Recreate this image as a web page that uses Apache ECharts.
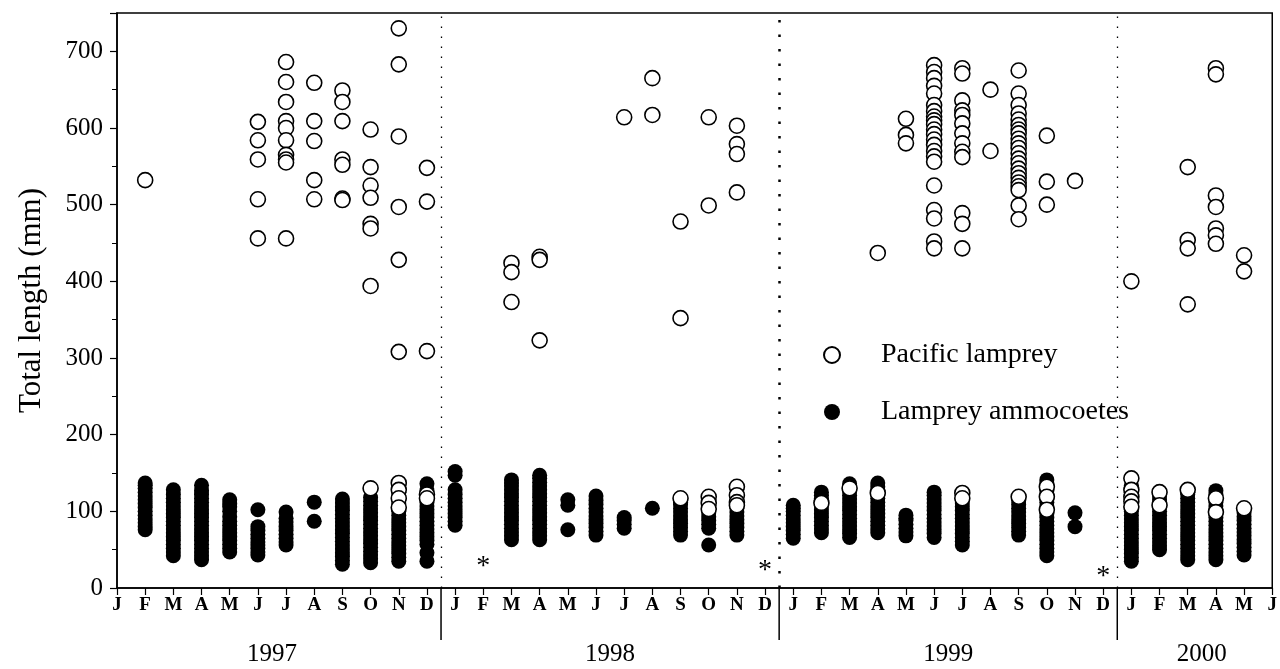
<!DOCTYPE html>
<html>
<head>
<meta charset="utf-8">
<script src="https://cdn.jsdelivr.net/npm/echarts@6/dist/echarts.min.js"></script>
<style>
html,body{margin:0;padding:0;background:#fff;}
#chart{width:1280px;height:669px;}
</style>
</head>
<body>
<div id="chart"></div>
<script>
// ---- Tick labels ----
const monthLabels = ['J','F','M','A','M','J','J','A','S','O','N','D',
                     'J','F','M','A','M','J','J','A','S','O','N','D',
                     'J','F','M','A','M','J','J','A','S','O','N','D',
                     'J','F','M','A','M','J'];
const yearLabels = ['1997','1998','1999','2000'];
const yearFirstMonth = [0, 12, 24, 36];
const yearLastMonth = [11, 23, 35, 41];
const yTicks = [0,100,200,300,400,500,600,700];

// ---- Lamprey ammocoetes (filled), month index (0 = Jan 1997) and lengths (mm) ----
const ammocoeteMonths = [1,2,3,4,5,6,7,8,9,10,11,
                         12,14,15,16,17,18,19,20,21,22,
                         24,25,26,27,28,29,30,32,33,34,
                         36,37,38,39,40];
const ammocoeteLengths = [
  [76,80,85,90,95,100,105,110,115,120,125,130,134,137],
  [42,47,52,57,62,67,72,77,82,87,92,97,102,107,112,117,122,128],
  [37,42,47,52,57,62,67,72,77,82,87,92,97,102,107,112,117,122,127,134],
  [47,52,57,62,67,72,77,82,87,93,100,106,110,115],
  [43,47,52,56,60,65,70,75,80,102],
  [56,60,65,70,75,80,86,91,99],
  [87,112],
  [31,36,41,46,51,56,61,66,71,76,81,86,91,96,101,106,111,116],
  [33,38,43,48,53,58,63,68,73,78,83,88,93,98,103,108,113,118],
  [35,40,45,50,55,60,65,70,75,80,85,90,95,100,105,110,115,120,125,130,135],
  [35,46,57,62,67,72,77,82,87,92,97,102,107,112,117,122,127,136],
  [82,87,92,97,102,107,112,117,122,128,147,152],
  [63,68,73,78,83,88,93,98,103,108,113,118,123,128,133,137,141],
  [63,68,73,78,83,88,93,98,103,108,113,118,123,128,133,138,143,147],
  [76,108,115],
  [69,74,79,84,89,94,99,104,109,114,120],
  [78,83,88,92],
  [104],
  [69,74,79,84,89,94,99,104,109,112],
  [56,78,83,88,93,98,103,108,115],
  [69,74,79,84,89,94,99,104,110],
  [65,70,75,80,85,90,95,100,104,108],
  [72,77,82,87,92,97,102,107,112,117,121,125],
  [66,71,76,81,86,91,96,101,106,111,116,121,126,131,136],
  [72,77,82,87,92,97,102,107,112,117,122,127,132,137],
  [68,73,78,83,88,91,95],
  [66,71,76,81,86,91,96,101,106,111,116,121,125],
  [56,61,66,71,76,81,86,91,96,101,106,111,116],
  [69,74,79,84,89,94,99,104,109,114],
  [42,47,52,57,62,67,72,77,82,87,92,97,102,107,112,117,122,127,132,137,141],
  [80,98],
  [35,40,45,50,55,60,65,70,75,80,85,90,95,100,105,110,115,120,125,130,134],
  [50,55,60,65,70,75,80,85,90,95,100,105,110,115,120,125],
  [37,42,47,52,57,62,67,72,77,82,87,92,97,102,107,112,117,122,125],
  [37,42,47,52,57,62,67,72,77,82,87,92,97,102,107,112,117,122,127],
  [43,48,53,58,63,68,73,78,83,88,93,98,104]
];

// ---- Pacific lamprey (open circles) ----
const pacificMonths = [1,5,6,7,8,9,10,11,
                       14,15,18,19,20,21,22,
                       25,26,27,28,29,30,31,32,33,34,
                       36,37,38,39,40];
const pacificLengths = [
  [532],
  [608,584,559,507,456],
  [686,660,634,609,600,584,565,559,555,456],
  [659,609,583,532,507],
  [649,634,609,559,552,508,506],
  [598,549,525,509,475,469,394,130],
  [730,683,589,497,428,308,137,128,117,105],
  [548,504,309,122,117],
  [424,412,373],
  [432,428,323],
  [614],
  [665,617],
  [478,352,117],
  [614,499,119,111,103],
  [603,579,566,516,132,121,112,108],
  [111],
  [130],
  [437,124],
  [612,591,580],
  [682,673,665,655,645,630,622,615,610,605,598,592,585,578,570,563,556,525,493,482,452,443],
  [678,671,636,623,617,606,593,580,569,562,489,475,443,124,117],
  [650,570],
  [675,645,630,619,611,604,598,593,586,580,574,567,560,554,547,541,535,529,524,519,499,481,119],
  [590,530,500,132,119,102],
  [531],
  [400,143,128,119,113,106],
  [125,108],
  [549,454,443,370,128],
  [678,670,512,497,469,460,449,117,99],
  [434,413,104]
];

// ---- Months without sampling (asterisks) ----
const noSampleMonths = [13, 23, 35];
const noSampleMarkLevel = [36, 30, 23];

// ---- Year boundaries (between December and January) ----
const yearBoundaries = [11.5, 23.5, 35.5];

function pairs(months, lists) {
  const out = [];
  months.forEach((m, i) => lists[i].forEach(v => out.push([m, v])));
  return out;
}

const serif = '"Liberation Serif", "Times New Roman", serif';
const chart = echarts.init(document.getElementById('chart'), null, {renderer: 'canvas'});

const option = {
  backgroundColor: '#fff',
  animation: false,
  grid: {left: 117, right: 3, top: 13, bottom: 81, show: true, borderColor: '#000', borderWidth: 1.5},
  legend: {
    orient: 'vertical',
    left: 818, top: 336,
    itemWidth: 16, itemHeight: 16, itemGap: 29,
    data: ['Pacific lamprey', 'Lamprey ammocoetes'],
    textStyle: {fontFamily: serif, fontSize: 28, color: '#000', padding: [0,0,0,36]}
  },
  xAxis: {
    type: 'value', min: 0, max: monthLabels.length - 1, interval: 1,
    axisLine: {lineStyle: {color: '#000', width: 1.5}},
    axisTick: {inside: false, length: 7, lineStyle: {color: '#000', width: 1.2}},
    splitLine: {show: false},
    axisLabel: {
      formatter: v => monthLabels[v] || '',
      fontFamily: serif, fontWeight: 'bold', fontSize: 19, color: '#000', margin: 8,
      showMinLabel: true, showMaxLabel: true, hideOverlap: false
    }
  },
  yAxis: {
    type: 'value', min: 0, max: 750, interval: 100,
    name: 'Total length (mm)', nameLocation: 'middle', nameGap: 70,
    nameTextStyle: {fontFamily: serif, fontSize: 31, color: '#000', padding: [0, 0, 0, 0]},
    axisLine: {show: true, lineStyle: {color: '#000', width: 1.5}},
    axisTick: {length: 7, lineStyle: {color: '#000', width: 1.2}},
    minorTick: {show: true, splitNumber: 2, length: 5, lineStyle: {color: '#000', width: 1}},
    splitLine: {show: false},
    axisLabel: {
      formatter: v => (yTicks.indexOf(v) >= 0 ? String(v) : ''),
      fontFamily: serif, fontSize: 25, color: '#000', margin: 14
    }
  },
  series: [
    {
      name: 'Lamprey ammocoetes', type: 'scatter', symbol: 'circle', symbolSize: 15,
      itemStyle: {color: '#000', opacity: 1}, z: 3,
      data: pairs(ammocoeteMonths, ammocoeteLengths),
      markLine: {
        silent: true, symbol: 'none', label: {show: false},
        data: yearBoundaries.map((b, i) => ({
          xAxis: b,
          lineStyle: i === 1
            ? {color: '#000', type: [2.5, 12], width: 2.5, opacity: 1}
            : {color: '#000', type: [1.5, 8.5], width: 1.3, opacity: 1}
        }))
      }
    },
    {
      name: 'Pacific lamprey', type: 'scatter', symbol: 'circle', symbolSize: 15,
      itemStyle: {color: '#fff', borderColor: '#000', borderWidth: 1.6, opacity: 1}, z: 4,
      data: pairs(pacificMonths, pacificLengths)
    },
    {
      type: 'scatter', symbolSize: 0, silent: true,
      itemStyle: {opacity: 1},
      data: noSampleMonths.map((m, i) => [m, noSampleMarkLevel[i]]),
      label: {show: true, position: 'inside', formatter: '*', fontFamily: serif, fontSize: 28, color: '#000', offset: [0, 6]}
    },
    {
      type: 'custom', silent: true, clip: false,
      data: yearBoundaries.map(b => [b]),
      renderItem: (params, api) => {
        const p = api.coord([api.value(0), 0]);
        return {type: 'line', shape: {x1: p[0], y1: p[1], x2: p[0], y2: p[1] + 52},
                style: {stroke: '#000', lineWidth: 1.5}};
      }
    },
    {
      type: 'custom', silent: true, clip: false,
      data: yearLabels.map((y, i) => [(yearFirstMonth[i] + yearLastMonth[i]) / 2, y]),
      renderItem: (params, api) => {
        const p = api.coord([api.value(0), 0]);
        return {type: 'text', x: p[0], y: p[1] + 66,
                style: {text: yearLabels[params.dataIndex], fill: '#000', font: '25px ' + serif,
                        textAlign: 'center', textVerticalAlign: 'middle'}};
      }
    }
  ]
};
chart.setOption(option);
</script>
</body>
</html>
